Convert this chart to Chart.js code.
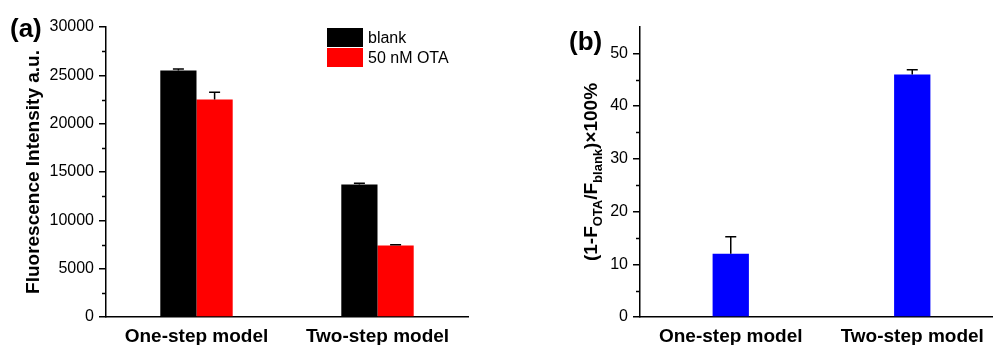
<!DOCTYPE html>
<html>
<head>
<meta charset="utf-8">
<script src="https://cdn.jsdelivr.net/npm/chart.js@4.4.1/dist/chart.umd.min.js"></script>
<style>
  html, body { margin: 0; padding: 0; background: #fff; overflow: hidden; width: 993px; height: 345px; }
  #chartA { position: absolute; left: 0; top: 0; }
  #chartB { position: absolute; left: 520px; top: 0; }
</style>
</head>
<body>
<canvas id="chartA" width="480" height="345"></canvas>
<canvas id="chartB" width="483" height="345"></canvas>
<script>
// data
var models = ["One-step model", "Two-step model"];
var blank = [25500, 13700];
var blankErr = [150, 130];
var ota = [22500, 7400];
var otaErr = [750, 80];
var quench = [12, 46];
var quenchErr = [3.2, 0.9];

var FONT = 'Arial, "Liberation Sans", sans-serif';
Chart.defaults.font.family = FONT;
Chart.defaults.color = '#000';

// error bars (upper half only), minor ticks, rotated axis title, panel letter, legend
var extras = {
  id: 'extras',
  afterDatasetsDraw: function(chart) {
    var ctx = chart.ctx, y = chart.scales.y;
    ctx.save();
    ctx.strokeStyle = '#000';
    ctx.lineWidth = 1.5;
    chart.data.datasets.forEach(function(ds, i) {
      if (!ds.errors) return;
      chart.getDatasetMeta(i).data.forEach(function(bar, j) {
        var top = y.getPixelForValue(ds.data[j] + ds.errors[j]);
        ctx.beginPath();
        ctx.moveTo(bar.x, bar.y);
        ctx.lineTo(bar.x, top);
        ctx.moveTo(bar.x - 5.5, top);
        ctx.lineTo(bar.x + 5.5, top);
        ctx.stroke();
      });
    });
    ctx.restore();
  },
  afterDraw: function(chart, args, opts) {
    var ctx = chart.ctx, y = chart.scales.y, area = chart.chartArea;
    ctx.save();
    // minor ticks
    ctx.strokeStyle = '#000';
    ctx.lineWidth = 1.5;
    for (var v = opts.minor; v < y.max; v += opts.minor * 2) {
      var py = Math.round(y.getPixelForValue(v)) + 0.5;
      ctx.beginPath();
      ctx.moveTo(area.left, py);
      ctx.lineTo(area.left - 4, py);
      ctx.stroke();
    }
    // axis title with optional subscripts
    ctx.translate(opts.titleX, (area.top + area.bottom) / 2);
    ctx.rotate(-Math.PI / 2);
    ctx.textBaseline = 'middle';
    ctx.textAlign = 'left';
    var total = 0;
    opts.title.forEach(function(p) {
      ctx.font = 'bold ' + (p.sub ? 13 : 19) + 'px ' + FONT;
      p.w = ctx.measureText(p.t).width;
      total += p.w;
    });
    var x = -total / 2;
    opts.title.forEach(function(p) {
      ctx.font = 'bold ' + (p.sub ? 13 : 19) + 'px ' + FONT;
      ctx.fillText(p.t, x, p.sub ? 6 : 0);
      x += p.w;
    });
    ctx.restore();
    // panel letter
    ctx.save();
    ctx.font = 'bold 26px ' + FONT;
    ctx.textBaseline = 'alphabetic';
    ctx.fillText(opts.letter, opts.letterX, opts.letterY);
    // legend
    if (opts.legend) {
      ctx.font = '16px ' + FONT;
      ctx.textBaseline = 'middle';
      chart.data.datasets.forEach(function(ds, i) {
        var bx = area.right - 141, by = area.top + 1 + i * 20;
        ctx.fillStyle = ds.backgroundColor;
        ctx.fillRect(bx, by, 36, 19);
        ctx.fillStyle = '#000';
        ctx.fillText(ds.label, bx + 41, by + 10.5);
      });
    }
    ctx.restore();
  }
};

function yAxis(max, step, width) {
  return {
    min: 0, max: max,
    ticks: {
      stepSize: step, font: { size: 16 }, padding: 5, color: '#000',
      callback: function(v) { return String(v); }
    },
    grid: { drawOnChartArea: false, drawTicks: true, tickLength: 7, color: '#000', lineWidth: 1.5 },
    border: { display: true, color: '#000', width: 1.5 },
    afterBuildTicks: function(s) { s.ticks = s.ticks.filter(function(t) { return t.value % step === 0; }); },
    afterFit: function(s) { s.width = width; }
  };
}

var xAxis = {
  grid: { drawOnChartArea: false, drawTicks: false },
  border: { display: true, color: '#000', width: 1.5 },
  ticks: { font: { size: 19, weight: 'bold' }, color: '#000', padding: 8, maxRotation: 0 },
  afterFit: function(s) { s.height = 28; }
};

new Chart(document.getElementById('chartA'), {
  type: 'bar',
  data: {
    labels: models,
    datasets: [
      { label: 'blank', data: blank, errors: blankErr, backgroundColor: '#000000' },
      { label: '50 nM OTA', data: ota, errors: otaErr, backgroundColor: '#ff0000' }
    ]
  },
  options: {
    responsive: false,
    animation: false,
    layout: { padding: { top: 27, right: 12, left: 0, bottom: 0 } },
    datasets: { bar: { categoryPercentage: 0.4, barPercentage: 1.0 } },
    scales: { x: xAxis, y: yAxis(30000, 5000, 106) },
    plugins: {
      legend: { display: false },
      tooltip: { enabled: false },
      extras: {
        minor: 2500, titleX: 34, letter: '(a)', letterX: 10, letterY: 37, legend: true,
        title: [{ t: 'Fluorescence Intensity a.u.' }]
      }
    }
  },
  plugins: [extras]
});

new Chart(document.getElementById('chartB'), {
  type: 'bar',
  data: {
    labels: models,
    datasets: [
      { label: 'quench', data: quench, errors: quenchErr, backgroundColor: '#0000ff' }
    ]
  },
  options: {
    responsive: false,
    animation: false,
    layout: { padding: { top: 27, right: 0, left: 0, bottom: 0 } },
    datasets: { bar: { categoryPercentage: 0.2, barPercentage: 1.0 } },
    scales: { x: xAxis, y: yAxis(55, 10, 120) },
    plugins: {
      legend: { display: false },
      tooltip: { enabled: false },
      extras: {
        minor: 5, titleX: 72, letter: '(b)', letterX: 49, letterY: 50, legend: false,
        title: [{ t: '(1-F' }, { t: 'OTA', sub: true }, { t: '/F' }, { t: 'blank', sub: true }, { t: ')\u00d7100%' }]
      }
    }
  },
  plugins: [extras]
});
</script>
</body>
</html>
